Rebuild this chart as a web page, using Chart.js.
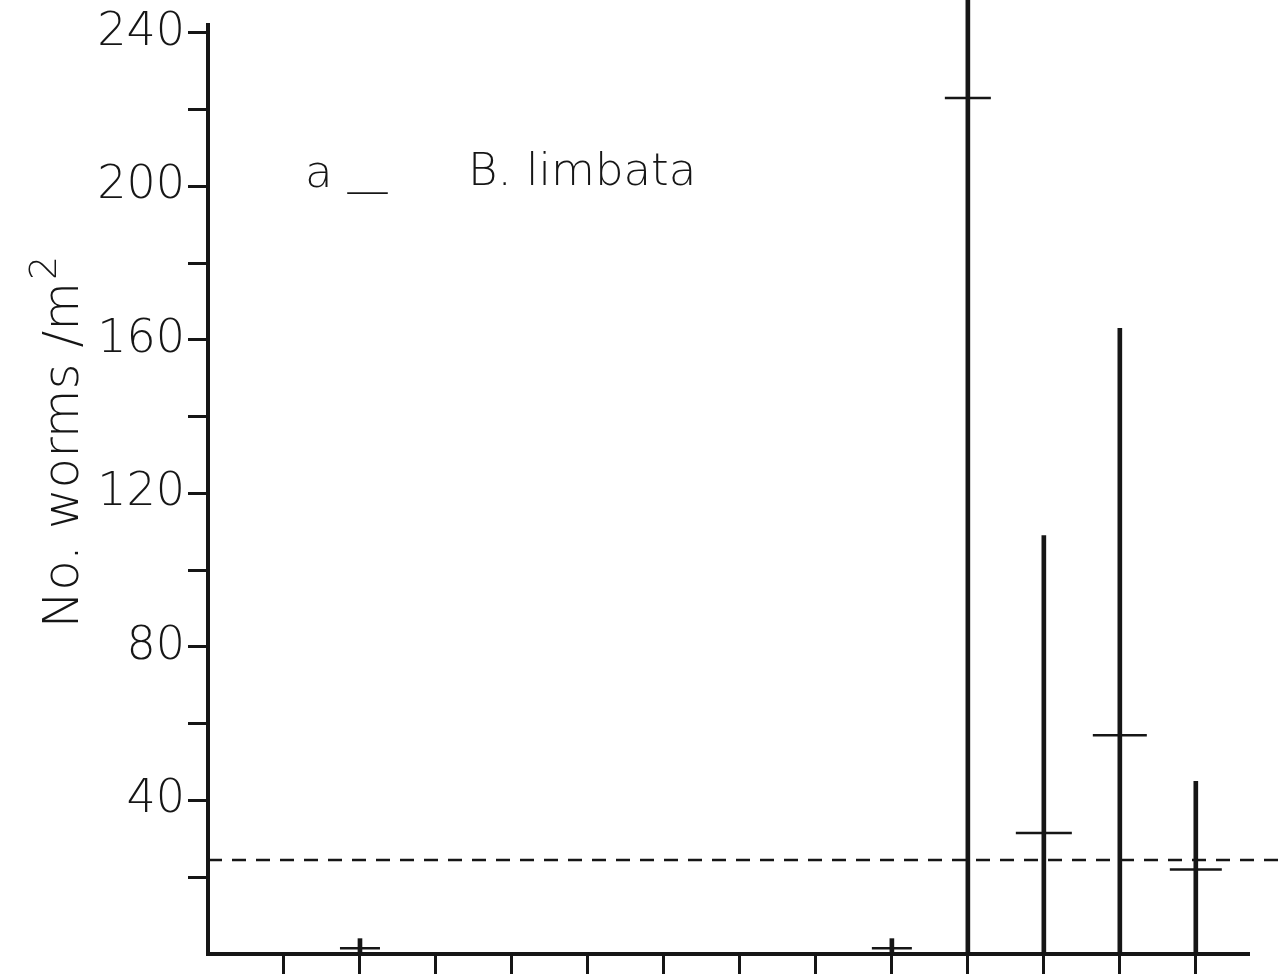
<!DOCTYPE html>
<html>
<head>
<meta charset="utf-8">
<script src="https://cdn.jsdelivr.net/npm/chart.js@4/dist/chart.umd.min.js"></script>
<style>
  html, body { margin: 0; padding: 0; background: #fff; }
  #wrap { width: 1285px; height: 979px; }
</style>
</head>
<body>
<div id="wrap"><canvas id="chart" width="1285" height="979"></canvas></div>
<script>
// sampling sites along the transect (1..13), only some have worms
const sites       = [2, 9, 10, 11, 12, 13]
const siteMean    = [1.5, 1.5, 223, 31.5, 57, 22]
const siteMax     = [4, 4, 260, 109, 163, 45]   // site 10 runs off the top of the page
const overallMean = 24.5

const xTicks  = [1, 2, 3, 4, 5, 6, 7, 8, 9, 10, 11, 12, 13]
const yTicks  = [20, 40, 60, 80, 100, 120, 140, 160, 180, 200, 220, 240]
const yLabels = [40, 80, 120, 160, 200, 240]

const INK  = '#161616'
const FONT = '"DejaVu Sans", sans-serif'

// panel caption + y axis title (drawn by hand so the superscript looks like the original)
const caption = {
  id: 'caption',
  afterDraw(chart) {
    const { ctx, chartArea } = chart
    const l = chartArea.left
    ctx.save()
    ctx.fillStyle = INK
    ctx.textBaseline = 'alphabetic'
    ctx.font = `200 45px ${FONT}`
    ctx.fillText('a', l + 97, 187)
    ctx.fillText('—', l + 137, 205)
    ctx.fillText('B. limbata', l + 260, 185)

    ctx.translate(78, 442)
    ctx.rotate(-Math.PI / 2)
    ctx.font = `200 50px ${FONT}`
    const main = 'No. worms /m'
    const wMain = ctx.measureText(main).width
    ctx.font = `200 38px ${FONT}`
    const wSup = ctx.measureText('2').width
    const x0 = -(wMain + wSup + 2) / 2
    ctx.font = `200 50px ${FONT}`
    ctx.fillText(main, x0, 0)
    ctx.font = `200 38px ${FONT}`
    ctx.fillText('2', x0 + wMain + 2, -22)
    ctx.restore()
  }
}

new Chart(document.getElementById('chart'), {
  type: 'bar',
  data: {
    datasets: [
      {
        type: 'bar',
        data: sites.map((s, i) => ({ x: s, y: [0, siteMax[i]] })),
        backgroundColor: INK,
        borderWidth: 0,
        barThickness: 4,
        clip: false,
      },
      {
        type: 'scatter',
        data: sites.map((s, i) => ({ x: s, y: siteMean[i] })),
        pointStyle: 'line',
        pointRadius: [20, 20, 23, 28, 27, 26],
        pointBorderWidth: 2.5,
        pointBorderColor: INK,
        borderColor: INK,
      },
      {
        type: 'line',
        data: [{ x: 0, y: overallMean }, { x: 14.3, y: overallMean }],
        borderColor: INK,
        borderWidth: 2.5,
        borderDash: [14, 10],
        pointRadius: 0,
        clip: false,
      },
    ],
  },
  options: {
    responsive: false, animation: false,
    layout: { autoPadding: false, padding: { top: 25, right: 36, bottom: 5, left: 0 } },
    plugins: { legend: { display: false }, tooltip: { enabled: false } },
    scales: {
      x: {
        type: 'linear', min: 0, max: 13.7, offset: false,
        afterBuildTicks: s => { s.ticks = xTicks.map(v => ({ value: v })) },
        afterFit: s => { s.paddingLeft = 0; s.paddingRight = 0 },
        ticks: { display: false },
        grid: { offset: false, drawOnChartArea: false, tickLength: 20, tickWidth: 3, tickColor: INK },
        border: { color: INK, width: 4 },
      },
      y: {
        min: 0, max: 242,
        afterBuildTicks: s => { s.ticks = yTicks.map(v => ({ value: v })) },
        afterFit: s => { s.width = 208; s.paddingTop = 0; s.paddingBottom = 0 },
        ticks: {
          autoSkip: false,
          callback: v => yLabels.includes(v) ? v : '',
          font: { family: FONT, size: 46, weight: 200 },
          color: INK,
          padding: 3,
        },
        grid: { drawOnChartArea: false, tickLength: 20, tickWidth: 3, tickColor: INK },
        border: { color: INK, width: 4 },
      },
    },
  },
  plugins: [caption],
})
</script>
</body>
</html>
